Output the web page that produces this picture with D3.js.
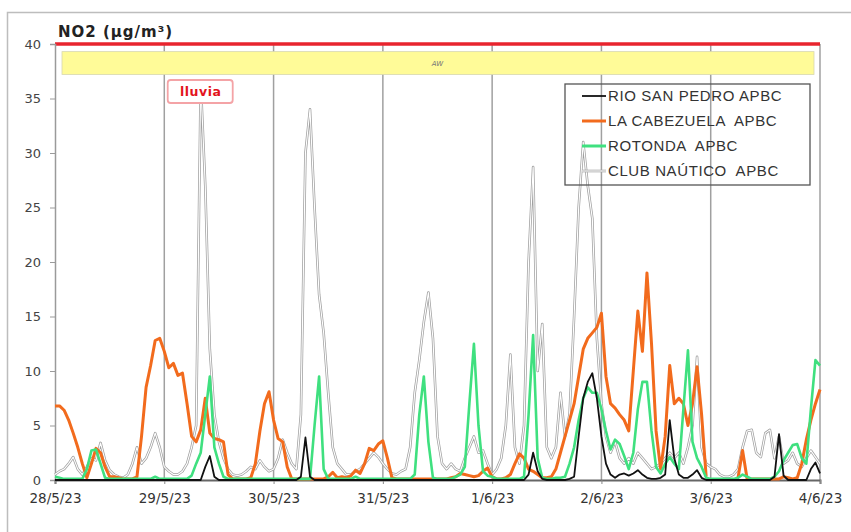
<!DOCTYPE html>
<html>
<head>
<meta charset="utf-8">
<script src="https://cdn.jsdelivr.net/npm/d3@7"></script>
<style>
  body { margin: 0; background: #fff; }
  svg { display: block; }
</style>
</head>
<body>
<div id="chart"></div>
<script>
// Hourly NO2 values from 28/5/23 00:00 to 4/6/23 00:00 (169 points)
const startDate = new Date(2023, 4, 28, 0);
const dayLabels = ["28/5/23", "29/5/23", "30/5/23", "31/5/23", "1/6/23", "2/6/23", "3/6/23", "4/6/23"];
const yTicks = [0, 5, 10, 15, 20, 25, 30, 35, 40];
const limitValue = 40;
const seriesNames = ["RIO SAN PEDRO APBC", "LA CABEZUELA  APBC", "ROTONDA  APBC", "CLUB NAÚTICO  APBC"];

const rioSanPedro = [
  0,0,0,0,0,0,0,0,0,0,0,0,0,0,0,0,0,0,0,0,0,0,0,0,
  0,0,0,0,0,0,0,0,0,1.2,2.2,0.3,0,0,0,0,0,0,0,0,0,0,0,0,
  0,0,0,0,0,0,0.3,3.9,0.3,0,0,0,0,0,0,0,0,0,0,0,0,0,0,0,
  0,0,0,0,0,0,0,0,0,0,0,0,0,0,0,0,0,0,0,0,0,0,0,0,
  0,0,0,0,0,0,0,0,0.5,2.5,0.8,0.1,0,0,0,0,0,0.1,0.3,4.0,7.5,9.0,9.8,7.5,
  4.0,1.5,0.5,0.2,0.5,0.6,0.4,0.6,0.9,0.5,0.2,0.1,0.1,0.2,0.5,5.5,2.0,0.5,0.2,0.2,0.5,0.9,0.2,0,
  0,0,0,0,0,0,0,0,0,0,0,0,0,0,0.3,4.2,0.4,0,0,0,0,0,1.0,1.6,
  0.6
];

const laCabezuela = [
  6.8,6.8,6.4,5.5,4.3,3.0,1.5,0.2,1.5,2.9,2.5,1.2,0.3,0.3,0.2,0.1,0.1,0.1,0.3,4.0,8.5,10.5,12.8,13.0,
  11.8,10.3,10.7,9.6,9.8,7.0,4.0,3.5,4.6,7.5,4.3,3.8,3.7,3.5,0.5,0.1,0.1,0.1,0.1,0.2,1.5,4.5,7.0,8.1,
  5.5,3.8,3.5,1.2,0.1,0.1,0.1,0.1,0.1,0.1,0.1,0.1,0.3,0.7,0.2,0.3,0.2,0.4,0.9,0.6,1.5,2.9,2.7,3.3,
  3.6,2.0,0.2,0.1,0.1,0.1,0.1,0.1,0.1,0.1,0.1,0.1,0.1,0.1,0.1,0.2,0.3,0.6,0.5,0.4,0.3,0.4,0.8,1.1,
  0.3,0.1,0.1,0.2,0.5,1.5,2.4,2.0,1.0,0.8,0.5,0.2,0.2,0.3,1.0,2.5,4.0,5.5,7.0,9.5,12.0,13.0,13.5,14.0,
  15.3,9.5,7.0,6.6,6.0,5.5,4.5,10.0,15.5,11.8,19.0,12.5,4.5,1.0,4.0,10.5,7.0,7.5,7.0,5.0,7.0,10.4,6.0,0.3,
  null,null,null,null,null,null,0.2,2.7,0.1,0.1,0.1,0.1,0.1,0.1,0.1,0.1,0.3,0.2,0.1,0.2,1.5,3.7,5.5,7.0,
  8.3
];

const rotonda = [
  0.3,0.2,0.1,0.1,0.1,0.1,0.1,1.0,2.7,2.8,1.5,0.2,0.1,0.1,0.1,0.1,0.1,0.1,0.1,0.1,0.1,0.1,0.3,0.1,
  0.1,0.1,0.1,0.1,0.1,0.1,0.4,1.5,2.5,6.0,9.5,3.0,1.5,0.3,0.1,0.1,0.1,0.1,0.1,0.1,0.1,0.1,0.1,0.1,
  0.1,0.1,0.1,0.1,0.1,0.1,0.1,0.1,0.1,5.0,9.5,1.0,0.1,0.1,0.1,0.1,0.1,0.1,0.3,0.1,0.1,0.1,0.1,0.1,
  0.1,0.1,0.1,0.1,0.1,0.1,0.1,0.5,6.0,9.5,3.5,0.2,0.1,0.1,0.1,0.1,0.3,0.5,1.2,7.0,12.5,5.0,0.8,0.4,
  0.3,0.1,0.1,0.1,0.1,0.1,0.1,0.3,6.0,13.3,2.0,0.2,0.1,0.1,0.2,0.2,0.3,1.5,3.0,5.5,7.5,8.5,8.0,8.0,
  6.5,4.5,2.8,3.7,3.3,2.2,1.0,2.5,6.5,9.0,9.0,4.5,1.2,0.6,1.5,2.1,1.5,1.0,6.5,11.9,3.5,2.0,1.2,0.2,
  0.1,0.1,0.1,0.1,0.1,0.1,0.2,0.5,0.3,0.1,0.1,0.1,0.1,0.1,0.3,0.8,1.8,2.5,3.2,3.3,2.0,1.5,6.5,11.0,
  10.5
];

const clubNautico = [
  0.5,0.8,1.0,1.5,2.1,1.0,0.5,1.2,2.0,1.8,3.4,1.8,0.9,0.5,0.3,0.2,0.5,1.5,3.0,1.5,2.0,3.0,4.3,3.0,
  1.2,0.8,0.5,0.5,0.8,1.5,3.0,5.0,36.5,27.0,12.0,6.0,3.5,2.0,1.0,0.5,0.4,0.5,0.8,1.2,1.0,1.8,1.2,0.8,
  1.0,2.0,3.7,2.5,1.5,1.0,6.0,30.0,34.0,25.0,17.0,13.5,8.0,3.0,1.5,1.0,0.5,0.5,0.8,1.0,1.5,2.0,2.5,2.1,
  1.5,1.0,0.6,0.5,0.8,1.0,3.0,8.0,11.0,14.5,17.2,13.0,4.0,1.5,1.0,1.5,1.0,0.8,2.0,3.0,4.0,2.5,2.7,1.5,
  0.5,1.0,2.0,5.0,11.5,3.0,1.5,5.0,20.0,28.7,10.0,14.3,3.0,2.0,3.0,8.0,4.0,6.0,15.0,25.0,31.0,27.0,24.0,13.0,
  7.0,4.0,2.5,3.5,2.0,1.5,2.0,1.5,2.5,2.0,1.5,1.0,1.2,1.5,2.0,2.5,2.0,2.5,1.5,3.0,5.0,11.3,3.0,1.5,
  1.2,1.0,0.5,0.3,0.3,0.5,1.0,3.0,4.5,4.6,2.5,2.1,4.3,4.6,2.0,4.0,1.5,1.8,2.5,1.5,1.2,2.0,2.7,2.1,
  1.5
];

// Set dimensions and margins
const margin = {top: 44, right: 31, bottom: 52, left: 55},
      width = 851 - margin.left - margin.right,
      height = 532 - margin.top - margin.bottom;

const root = d3.select("#chart")
    .append("svg")
    .attr("width", 851)
    .attr("height", 532);

// Outer chart frame
root.append("rect")
    .attr("x", 7.5).attr("y", 12.5)
    .attr("width", 860).attr("height", 540)
    .attr("fill", "none")
    .attr("stroke", "#bdbdbd")
    .attr("stroke-width", 1.5);

const svg = root.append("g")
    .attr("transform", `translate(${margin.left},${margin.top})`);

const endDate = d3.timeDay.offset(startDate, 7);
const dayDates = d3.range(8).map(i => d3.timeDay.offset(startDate, i));

const x = d3.scaleTime()
    .domain([startDate, endDate])
    .range([0, width]);
const y = d3.scaleLinear()
    .domain([0, 40])
    .range([height, 0]);

// Vertical day gridlines
svg.selectAll(".vgrid")
    .data(dayDates.slice(1))
    .enter()
    .append("line")
    .attr("x1", d => x(d)).attr("x2", d => x(d))
    .attr("y1", y(40)).attr("y2", y(0))
    .attr("stroke", "#a0a0a0")
    .attr("stroke-width", 1.5);

// Limit line (40)
svg.append("line")
    .attr("x1", 0).attr("x2", width)
    .attr("y1", y(limitValue)).attr("y2", y(limitValue))
    .attr("stroke", "#e8242e")
    .attr("stroke-width", 3.5);

// Yellow band
svg.append("rect")
    .attr("x", 7).attr("y", y(39.3))
    .attr("width", width - 13).attr("height", y(37.2) - y(39.3))
    .attr("fill", "#fffb98")
    .attr("stroke", "#d8d8b0")
    .attr("stroke-width", 0.8);
svg.append("text")
    .attr("x", width / 2).attr("y", y(38.25) + 3)
    .attr("text-anchor", "middle")
    .style("font", "italic 7px 'DejaVu Sans'")
    .attr("fill", "#777")
    .text("AW");

// Y axis
const yAxis = svg.append("g")
    .call(d3.axisLeft(y).tickValues(yTicks).tickSize(5).tickPadding(9));
yAxis.select(".domain").attr("stroke", "#9a9a9a").attr("stroke-width", 1.5);
yAxis.selectAll(".tick line").attr("stroke", "#9a9a9a");
yAxis.selectAll(".tick text")
    .style("font", "13px 'DejaVu Sans'")
    .attr("fill", "#444");

// X axis
const xAxis = svg.append("g")
    .attr("transform", `translate(0,${height})`)
    .call(d3.axisBottom(x).tickValues(dayDates).tickFormat((d, i) => dayLabels[i]).tickSize(4).tickPadding(9));
xAxis.select(".domain").attr("stroke", "#666").attr("stroke-width", 2);
xAxis.selectAll(".tick line").attr("stroke", "#888");
xAxis.selectAll(".tick text")
    .style("font", "13.5px 'DejaVu Sans'")
    .attr("fill", "#333");

// Series lines
const toPoints = arr => arr.map((v, i) => ({t: d3.timeHour.offset(startDate, i), v: v}));
const line = d3.line()
    .defined(d => d.v != null)
    .x(d => x(d.t))
    .y(d => y(d.v));

// Club Naútico: white line with grey outline
svg.append("path")
    .datum(toPoints(clubNautico))
    .attr("d", line)
    .attr("fill", "none")
    .attr("stroke", "#a0a0a0")
    .attr("stroke-width", 2.6)
    .attr("stroke-linejoin", "round");
svg.append("path")
    .datum(toPoints(clubNautico))
    .attr("d", line)
    .attr("fill", "none")
    .attr("stroke", "#ffffff")
    .attr("stroke-width", 1.1)
    .attr("stroke-linejoin", "round");

svg.append("path")
    .datum(toPoints(laCabezuela))
    .attr("d", line)
    .attr("fill", "none")
    .attr("stroke", "#f26b1d")
    .attr("stroke-width", 3)
    .attr("stroke-linejoin", "round");

svg.append("path")
    .datum(toPoints(rotonda))
    .attr("d", line)
    .attr("fill", "none")
    .attr("stroke", "#3fe07f")
    .attr("stroke-width", 2.6)
    .attr("stroke-linejoin", "round");

svg.append("path")
    .datum(toPoints(rioSanPedro))
    .attr("d", line)
    .attr("fill", "none")
    .attr("stroke", "#111")
    .attr("stroke-width", 1.8)
    .attr("stroke-linejoin", "round");

// Title
root.append("text")
    .attr("x", 58).attr("y", 37)
    .style("font", "bold 15px 'DejaVu Sans'")
    .style("letter-spacing", "1px")
    .attr("fill", "#222")
    .text("NO2 (µg/m³)");

// "lluvia" annotation
const lluviaX = x(d3.timeHour.offset(startDate, 32));
svg.append("rect")
    .attr("x", lluviaX - 33).attr("y", 36)
    .attr("width", 65).attr("height", 23)
    .attr("rx", 3)
    .attr("fill", "#fff")
    .attr("stroke", "#f4a3a6")
    .attr("stroke-width", 1.8);
svg.append("text")
    .attr("x", lluviaX).attr("y", 52)
    .attr("text-anchor", "middle")
    .style("font", "bold 12.5px 'DejaVu Sans'")
    .style("letter-spacing", "0.5px")
    .attr("fill", "#e3141d")
    .text("lluvia");

// Legend (no fill, gridlines show through)
const legend = root.append("g").attr("transform", "translate(565,84)");
legend.append("rect")
    .attr("width", 245).attr("height", 101)
    .attr("fill", "none")
    .attr("stroke", "#555")
    .attr("stroke-width", 1.3);
const legendStyles = [
  {color: "#111", w: 1.8},
  {color: "#f26b1d", w: 3},
  {color: "#3fe07f", w: 3},
  {color: "#fff", w: 1.1, outline: "#a0a0a0"}
];
seriesNames.forEach((name, i) => {
    const ly = 12 + i * 25;
    const s = legendStyles[i];
    if (s.outline) {
        legend.append("line")
            .attr("x1", 17).attr("x2", 41).attr("y1", ly).attr("y2", ly)
            .attr("stroke", s.outline).attr("stroke-width", 2.6);
    }
    legend.append("line")
        .attr("x1", 17).attr("x2", 41).attr("y1", ly).attr("y2", ly)
        .attr("stroke", s.color).attr("stroke-width", s.w);
    legend.append("text")
        .attr("x", 43).attr("y", ly + 5)
        .style("font", "15px 'Liberation Sans'")
        .style("letter-spacing", "0.6px")
        .style("white-space", "pre")
        .attr("fill", "#333")
        .text(name);
});
</script>
</body>
</html>
